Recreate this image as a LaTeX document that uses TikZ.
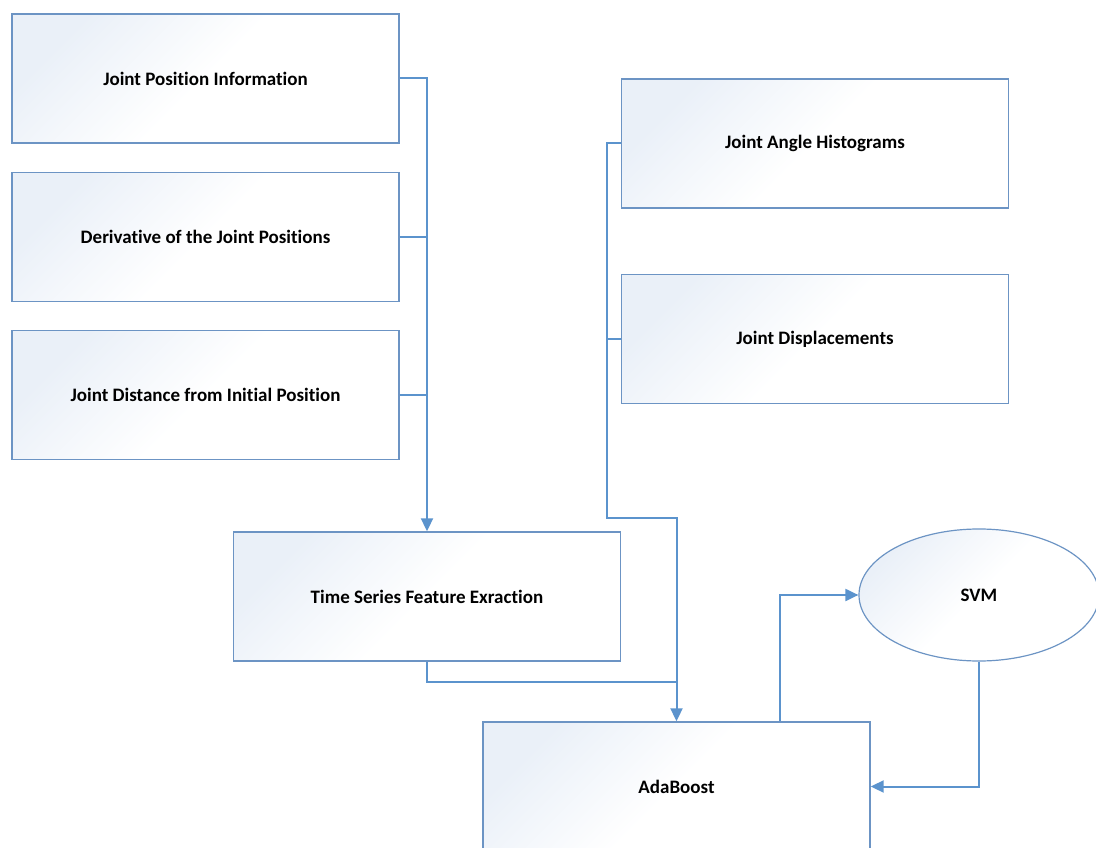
\documentclass[tikz,border=0pt]{standalone}
\usepackage{fontspec}
\setmainfont{Carlito}[Ligatures={NoCommon}]
\usetikzlibrary{shapes.geometric,arrows.meta}
\definecolor{connc}{RGB}{91,147,205}
\definecolor{bordc}{RGB}{108,148,196}
\definecolor{shadec}{RGB}{234,240,248}
\tikzset{
  box/.style={draw=bordc, line width=1.4pt, top color=shadec, bottom color=white, middle color=white, shading angle=45,
    minimum width=387pt, minimum height=129pt, inner sep=0pt, font=\fontsize{19}{22}\selectfont\bfseries, text=black},
  svmshape/.style={ellipse, draw=bordc, line width=1.2pt, top color=shadec, bottom color=white, middle color=white, shading angle=45,
    minimum width=240pt, minimum height=132pt, inner sep=0pt, font=\fontsize{19}{22}\selectfont\bfseries, text=black},
  wire/.style={draw=connc, line width=2pt},
  conn/.style={wire, -{Triangle[length=13pt,width=12pt]}},
}
\begin{document}
\begin{tikzpicture}[x=1pt,y=-1pt]
\useasboundingbox (0,0) rectangle (1096,848);
\node[box] (jpi) at (205.5,78.5) {Joint Position Information};
\node[box] (djp) at (205.5,237) {Derivative of the Joint Positions};
\node[box] (jdi) at (205.5,395) {Joint Distance from Initial Position};
\node[box] (tsf) at (427,596.5) {Time Series Feature Exraction};
\node[box] (jah) at (815,143.5) {Joint Angle Histograms};
\node[box] (jdm) at (815,339) {Joint Displacements};
\node[box] (ada) at (676.5,786.5) {AdaBoost};
\node[svmshape] (svm) at (979,595) {SVM};
\coordinate (rb) at (607,518);
\coordinate (tj) at (676.5,682);
% left bus
\draw[conn] (jpi.east) -| (tsf.north);
\draw[wire] (djp.east) -- (djp.east -| tsf.north);
\draw[wire] (jdi.east) -- (jdi.east -| tsf.north);
% right bus
\draw[conn] (jah.west) -| (rb) -| (ada.north);
\draw[wire] (jdm.west) -- (jdm.west -| rb);
\draw[wire] (tsf.south) |- (tj);
% svm loop
\draw[conn] ([xshift=103.5pt]ada.north) |- (svm.west);
\draw[conn] (svm.south) |- (ada.east);
\end{tikzpicture}
\end{document}
